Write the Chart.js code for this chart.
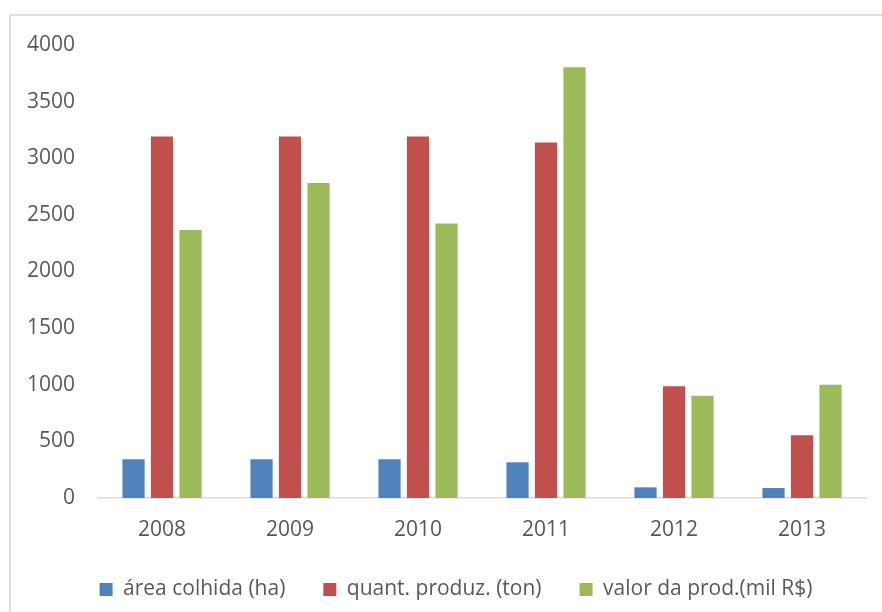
<!DOCTYPE html>
<html>
<head>
<meta charset="utf-8">
<script src="https://cdn.jsdelivr.net/npm/chart.js@4"></script>
<style>
    html, body { margin: 0; padding: 0; background: #fff; }
    body { width: 882px; height: 612px; position: relative; overflow: hidden; }
    #frame {
        position: absolute; left: 9px; top: 14px; width: 900px; height: 700px;
        border-left: 2px solid #dedede; border-top: 2px solid #dedede;
        box-sizing: border-box;
    }
    #wrap { position: absolute; left: 0; top: 0; width: 892px; height: 612px; }
</style>
</head>
<body>
<div id="frame"></div>
<div id="wrap"><canvas id="producaoChart"></canvas></div>
<script>
    // Anos
    const anos = ['2008', '2009', '2010', '2011', '2012', '2013'];

    // Séries
    const areaColhida = [342, 342, 342, 315, 94, 88];
    const quantProduz = [3192, 3192, 3192, 3140, 987, 555];
    const valorProd = [2367, 2781, 2423, 3803, 902, 999];

    // Eixo vertical
    const yMin = 0;
    const yMax = 4000;
    const yPasso = 500;

    const corTexto = '#595959';
    const fonte = "'Open Sans', sans-serif";

    document.addEventListener('DOMContentLoaded', function () {
        const ctx = document.getElementById('producaoChart').getContext('2d');

        const datasets = [
            { label: 'área colhida (ha)', data: areaColhida, backgroundColor: '#4f81bd' },
            { label: 'quant. produz. (ton)', data: quantProduz, backgroundColor: '#c0504d' },
            { label: 'valor da prod.(mil R$)', data: valorProd, backgroundColor: '#9bbb59' }
        ].map(ds => Object.assign(ds, {
            borderWidth: 0,
            categoryPercentage: 0.668,
            barPercentage: 0.78
        }));

        new Chart(ctx, {
            type: 'bar',
            data: { labels: anos, datasets: datasets },
            options: {
                responsive: true,
                maintainAspectRatio: false,
                animation: false,
                layout: { padding: { left: 20, right: 0, top: 45, bottom: 2 } },
                plugins: {
                    tooltip: { enabled: false },
                    legend: {
                        position: 'bottom',
                        labels: {
                            boxWidth: 13,
                            boxHeight: 13,
                            padding: 38,
                            color: corTexto,
                            font: { family: fonte, size: 21 }
                        }
                    }
                },
                scales: {
                    x: {
                        grid: { display: false, drawTicks: false },
                        border: { display: true, color: '#d9d9d9', width: 1.5 },
                        ticks: { color: corTexto, padding: 19, font: { family: fonte, size: 21 } },
                        afterFit: scale => { scale.height = 43; }
                    },
                    y: {
                        min: yMin,
                        max: yMax,
                        grid: { display: false, drawTicks: false },
                        border: { display: false },
                        ticks: {
                            stepSize: yPasso,
                            color: corTexto,
                            padding: 23,
                            font: { family: fonte, size: 21 },
                            callback: v => String(v)
                        },
                        afterFit: scale => { scale.width = 78; }
                    },
                    // margem à direita da área do gráfico (sem marcas)
                    margem: {
                        type: 'linear',
                        position: 'right',
                        display: true,
                        grid: { display: false, drawTicks: false },
                        border: { display: false },
                        ticks: { display: false },
                        afterFit: scale => { scale.width = 26; }
                    }
                }
            }
        });
    });
</script>
</body>
</html>
